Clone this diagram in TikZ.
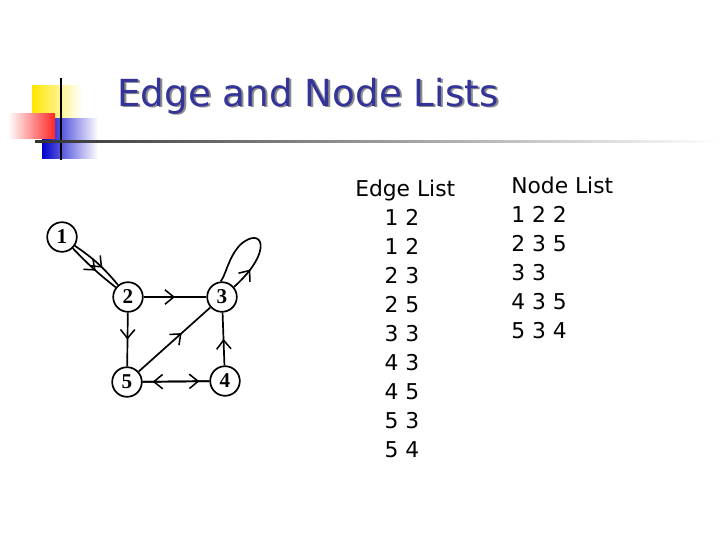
\documentclass[tikz,border=0pt]{standalone}
\usepackage{fontspec}
\setmainfont{Liberation Serif}
\setsansfont{DejaVu Sans}
\usetikzlibrary{decorations.markings,arrows.meta}
\definecolor{titleblue}{RGB}{51,51,153}
\tikzset{
  vertex/.style={draw, circle, line width=1.2pt, minimum size=0.74cm, inner sep=0pt, font=\bfseries\fontsize{15}{17}\selectfont},
  midarrow/.style={line width=1.2pt, postaction={decorate}, decoration={markings, mark=at position #1 with {\arrow[line width=1.1pt]{Straight Barb[length=2.2mm,width=3.6mm]}}}},
  listtext/.style={font=\sffamily\fontsize{15.5}{20.6}\selectfont, align=left, anchor=north west, inner sep=0pt}
}
\begin{document}
\begin{tikzpicture}[x=0.025cm, y=-0.025cm]
  \useasboundingbox (0,0) rectangle (720,540);
  % logo
  \shade[left color=yellow!80!orange, right color=white] (32,85) rectangle (82,118);
  \shade[left color=blue!80!black, right color=white] (42,118) rectangle (98,158);
  \shade[left color=white, right color=red!85] (8,113) rectangle (55,138);
  \draw[line width=1.5pt] (61,78) -- (61,160);
  \shade[left color=black!80, right color=white] (35,140) rectangle (720,142.5);
  % title
  \node[anchor=base west, inner sep=0pt, text=black!45, font=\sffamily\fontsize{26.5}{30}\selectfont] at (119,107.5) {Edge and Node Lists};
  \node[anchor=base west, inner sep=0pt, text=titleblue, font=\sffamily\fontsize{26.5}{30}\selectfont] at (117,106) {Edge and Node Lists};
  % graph
  \node[vertex] (v1) at (62,237) {1};
  \node[vertex] (v2) at (128,297) {2};
  \node[vertex] (v3) at (222,297) {3};
  \node[vertex] (v4) at (225,381) {4};
  \node[vertex] (v5) at (127,382) {5};
  \draw[midarrow=0.6] (v1) to[bend left=8] (v2);
  \draw[midarrow=0.55] (v1) to[bend right=4] (v2);
  \draw[midarrow=0.5] (v2) -- (v3);
  \draw[midarrow=0.5] (v2) -- (v5);
  \draw[midarrow=0.6] (v5) -- (v3);
  \draw[midarrow=0.5] (v4) -- (v3);
  \draw[midarrow=0.85] (v5) -- (v4);
  \draw[midarrow=0.85] (v4) -- (v5);
  \draw[midarrow=0.2] (v3.40) .. controls (275,250) and (262,225) .. (240,245) .. controls (228,258) and (226,275) .. (v3.95);
  % lists
  \node[listtext] (edges) at (355,180) {Edge List\\\hspace{1.35em}1 2\\\hspace{1.35em}1 2\\\hspace{1.35em}2 3\\\hspace{1.35em}2 5\\\hspace{1.35em}3 3\\\hspace{1.35em}4 3\\\hspace{1.35em}4 5\\\hspace{1.35em}5 3\\\hspace{1.35em}5 4};
  \node[listtext] (nodes) at (511,177) {Node List\\1 2 2\\2 3 5\\3 3\\4 3 5\\5 3 4};
\end{tikzpicture}
\end{document}
